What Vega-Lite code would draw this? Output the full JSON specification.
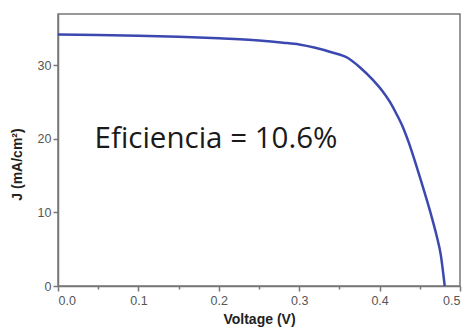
{
  "$schema": "https://vega.github.io/schema/vega-lite/v6.json",
  "autosize": "none",
  "width": 402,
  "height": 272,
  "padding": {"left": 58, "top": 14, "right": 8, "bottom": 43},
  "background": "white",
  "config": {
    "view": {"stroke": "#777", "strokeWidth": 1.5},
    "axis": {
      "grid": false,
      "domainColor": "#777",
      "domainWidth": 1.5,
      "tickColor": "#777",
      "tickWidth": 1.5,
      "labelFont": "Liberation Sans",
      "labelFontSize": 12.5,
      "labelColor": "#555",
      "titleFont": "Liberation Sans",
      "titleFontSize": 14,
      "titleFontWeight": "bold",
      "titleColor": "#222"
    }
  },
  "datasets": {
    "curve": [
      {"V": 0.0, "J": 34.2},
      {"V": 0.05, "J": 34.15},
      {"V": 0.1, "J": 34.05},
      {"V": 0.15, "J": 33.9},
      {"V": 0.2, "J": 33.7},
      {"V": 0.25, "J": 33.4},
      {"V": 0.28, "J": 33.1},
      {"V": 0.3, "J": 32.85},
      {"V": 0.32, "J": 32.4},
      {"V": 0.34, "J": 31.8},
      {"V": 0.36, "J": 31.05},
      {"V": 0.375, "J": 29.8},
      {"V": 0.392, "J": 28.0},
      {"V": 0.403, "J": 26.6},
      {"V": 0.413, "J": 25.0},
      {"V": 0.421, "J": 23.4},
      {"V": 0.429, "J": 21.6},
      {"V": 0.436, "J": 19.6},
      {"V": 0.443, "J": 17.3},
      {"V": 0.451, "J": 14.5},
      {"V": 0.459, "J": 11.6},
      {"V": 0.465, "J": 9.3},
      {"V": 0.471, "J": 6.8},
      {"V": 0.476, "J": 4.3},
      {"V": 0.481, "J": 0.0}
    ],
    "label": [{"V": 0.1965, "J": 18.8, "text": "Eficiencia = 10.6%"}]
  },
  "layer": [
    {
      "data": {"name": "curve"},
      "mark": {"type": "line", "color": "#3b48b0", "strokeWidth": 2.5, "clip": true, "interpolate": "monotone"},
      "encoding": {
        "x": {
          "field": "V", "type": "quantitative",
          "scale": {"domain": [0, 0.5], "nice": false, "zero": false},
          "axis": {
            "orient": "bottom",
            "title": "Voltage (V)",
            "values": [0, 0.05, 0.1, 0.15, 0.2, 0.25, 0.3, 0.35, 0.4, 0.45, 0.5],
            "labelExpr": "(round(datum.value*100) % 10 == 0) ? format(datum.value, '.1f') : ''",
            "tickSize": {"condition": {"test": "round(datum.value*100) % 10 == 0", "value": 5}, "value": 3},
            "labelPadding": 3,
            "labelOverlap": false,
            "titlePadding": 6
          }
        },
        "y": {
          "field": "J", "type": "quantitative",
          "scale": {"domain": [0, 37], "nice": false},
          "axis": {
            "orient": "left",
            "title": "J (mA/cm²)",
            "values": [0, 2.5, 5, 7.5, 10, 12.5, 15, 17.5, 20, 22.5, 25, 27.5, 30, 32.5, 35],
            "labelExpr": "(datum.value % 5 == 0) ? format(datum.value, 'd') : ''",
            "tickSize": {"condition": {"test": "datum.value % 5 == 0", "value": 5}, "value": 3},
            "labelPadding": 2,
            "labelOverlap": false,
            "titleX": -41,
            "titleY": 150,
            "titleBaseline": "middle"
          }
        }
      }
    },
    {
      "data": {"name": "label"},
      "mark": {"type": "text", "font": "Open Sans", "fontSize": 29.5, "color": "#1a1a1a", "align": "center", "baseline": "alphabetic"},
      "encoding": {
        "x": {"field": "V", "type": "quantitative"},
        "y": {"field": "J", "type": "quantitative"},
        "text": {"field": "text"}
      }
    }
  ]
}
